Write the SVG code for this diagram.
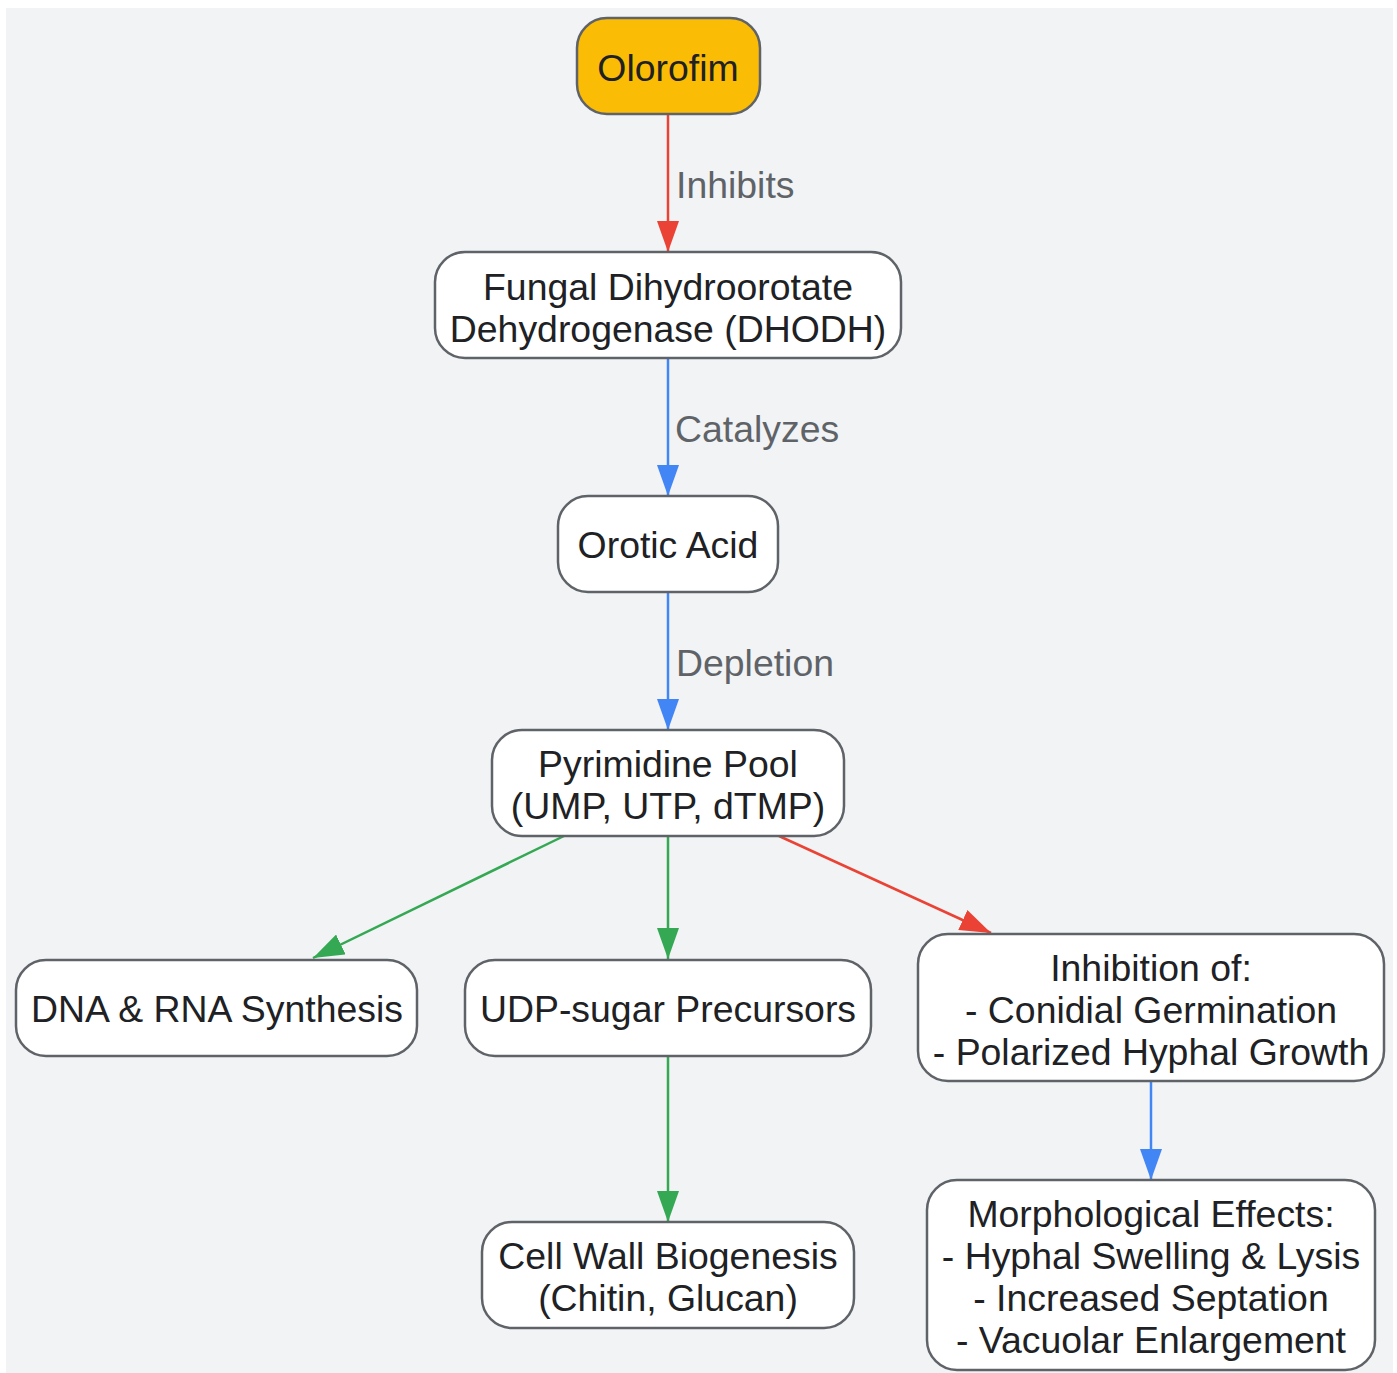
<svg xmlns="http://www.w3.org/2000/svg" width="1397" height="1373" viewBox="0 0 1397 1373">
<defs>
<style>
.n rect{fill:#ffffff;stroke:#5f6368;stroke-width:2.5}
.n text,.lbl{font-family:"Liberation Sans",Arial,sans-serif;font-size:37.4px;text-anchor:middle}
.n text{fill:#202124}
.lbl{fill:#5f6368;text-anchor:start}
.e{fill:none;stroke-width:2.5}
.red{stroke:#ea4335}.blue{stroke:#4285f4}.green{stroke:#34a853}
</style>
<marker id="ar" markerUnits="userSpaceOnUse" markerWidth="31" markerHeight="22" refX="31" refY="11" orient="auto"><path d="M0,0 L31,11 L0,22 z" fill="#ea4335"/></marker>
<marker id="ab" markerUnits="userSpaceOnUse" markerWidth="31" markerHeight="22" refX="31" refY="11" orient="auto"><path d="M0,0 L31,11 L0,22 z" fill="#4285f4"/></marker>
<marker id="ag" markerUnits="userSpaceOnUse" markerWidth="31" markerHeight="22" refX="31" refY="11" orient="auto"><path d="M0,0 L31,11 L0,22 z" fill="#34a853"/></marker>
</defs>
<rect width="1397" height="1373" fill="#ffffff"/>
<rect x="6" y="8" width="1387" height="1365" fill="#f1f3f5"/>
<g id="connectors">
<line class="e red" x1="668" y1="115" x2="668" y2="252" marker-end="url(#ar)"/>
<line class="e blue" x1="668" y1="358" x2="668" y2="496" marker-end="url(#ab)"/>
<line class="e blue" x1="668" y1="592" x2="668" y2="730" marker-end="url(#ab)"/>
<line class="e green" x1="564" y1="836" x2="313" y2="958" marker-end="url(#ag)"/>
<line class="e green" x1="668" y1="836" x2="668" y2="959" marker-end="url(#ag)"/>
<line class="e red" x1="779" y1="836" x2="991" y2="933" marker-end="url(#ar)"/>
<line class="e green" x1="668" y1="1056" x2="668" y2="1222" marker-end="url(#ag)"/>
<line class="e blue" x1="1151" y1="1082" x2="1151" y2="1180" marker-end="url(#ab)"/>
<text class="lbl" x="676" y="198">Inhibits</text>
<text class="lbl" x="675" y="442">Catalyzes</text>
<text class="lbl" x="676" y="676">Depletion</text>
</g>
<g id="olorofim" class="n"><rect x="577" y="18" width="183" height="96" rx="30" style="fill:#fbbc05"/><text x="668" y="81">Olorofim</text></g>
<g id="dhodh" class="n"><rect x="435" y="252" width="466" height="106" rx="30"/><text x="668" y="300">Fungal Dihydroorotate</text><text x="668" y="342">Dehydrogenase (DHODH)</text></g>
<g id="orotic" class="n"><rect x="558" y="496" width="220" height="96" rx="30"/><text x="668" y="558">Orotic Acid</text></g>
<g id="pyrimidine" class="n"><rect x="492" y="730" width="352" height="106" rx="30"/><text x="668" y="777">Pyrimidine Pool</text><text x="668" y="819">(UMP, UTP, dTMP)</text></g>
<g id="dna" class="n"><rect x="16" y="960" width="401" height="96" rx="30"/><text x="217" y="1022">DNA &amp; RNA Synthesis</text></g>
<g id="udp" class="n"><rect x="465" y="960" width="406" height="96" rx="30"/><text x="668" y="1022">UDP-sugar Precursors</text></g>
<g id="inhibition" class="n"><rect x="918" y="934" width="466" height="147" rx="30"/><text x="1151" y="981">Inhibition of:</text><text x="1151" y="1023">- Conidial Germination</text><text x="1151" y="1065">- Polarized Hyphal Growth</text></g>
<g id="cellwall" class="n"><rect x="482" y="1222" width="372" height="106" rx="30"/><text x="668" y="1269">Cell Wall Biogenesis</text><text x="668" y="1311">(Chitin, Glucan)</text></g>
<g id="morph" class="n"><rect x="927" y="1180" width="448" height="190" rx="30"/><text x="1151" y="1227">Morphological Effects:</text><text x="1151" y="1269">- Hyphal Swelling &amp; Lysis</text><text x="1151" y="1311">- Increased Septation</text><text x="1151" y="1353">- Vacuolar Enlargement</text></g>
</svg>
